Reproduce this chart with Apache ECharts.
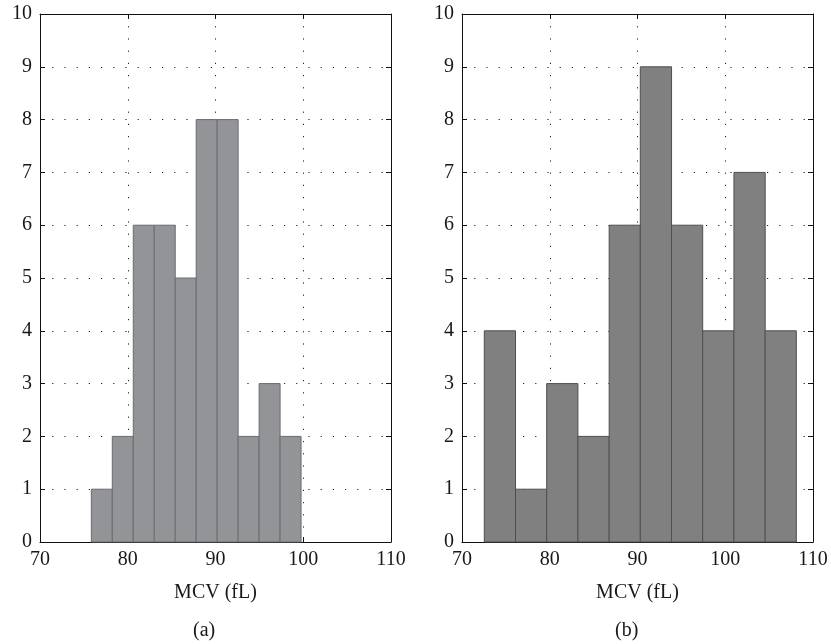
<!DOCTYPE html>
<html>
<head>
<meta charset="utf-8">
<script src="https://cdn.jsdelivr.net/npm/echarts@6/dist/echarts.min.js"></script>
<style>
    html, body { margin: 0; padding: 0; background: #fff; }
    #chart { width: 831px; height: 644px; }
</style>
</head>
<body>
<div id="chart"></div>
<script>
// bin edges (MCV, fL)
const edgesA = [75.85, 78.24, 80.63, 83.02, 85.41, 87.80, 90.19, 92.58, 94.97, 97.36, 99.75];
const countsA = [1, 2, 6, 6, 5, 8, 8, 2, 3, 2];
const edgesB = [72.54, 76.10, 79.65, 83.21, 86.77, 90.32, 93.88, 97.43, 100.99, 104.55, 108.10];
const countsB = [4, 1, 3, 2, 6, 9, 6, 4, 7, 4];
const xTicks = [70, 80, 90, 100, 110];
const yTicks = [0, 1, 2, 3, 4, 5, 6, 7, 8, 9, 10];
const xName = 'MCV (fL)';
const panelLabels = ['(a)', '(b)'];

const chart = echarts.init(document.getElementById('chart'));
const font = 'Liberation Serif';
const txt = '#1a1718';
const fs = 20;

function bins(edges, counts) {
    return counts.map((c, i) => [edges[i], edges[i + 1], c]);
}

function histSeries(idx, data, fill, stroke) {
    return {
        type: 'custom',
        xAxisIndex: idx * 2,
        yAxisIndex: idx * 2,
        data: data,
        renderItem(params, api) {
            const p0 = api.coord([api.value(0), api.value(2)]);
            const p1 = api.coord([api.value(1), 0]);
            return {
                type: 'rect',
                shape: { x: p0[0], y: p0[1], width: p1[0] - p0[0], height: p1[1] - p0[1] },
                style: { fill: fill, stroke: stroke, lineWidth: 1 }
            };
        }
    };
}

function xAxes(grid) {
    const base = {
        type: 'value', gridIndex: grid,
        min: xTicks[0], max: xTicks[xTicks.length - 1], interval: 10,
        axisLine: { show: true, onZero: false, lineStyle: { color: '#111', width: 1 } },
        axisTick: { show: true, inside: true, length: 5, lineStyle: { color: '#111' } }
    };
    return [
        Object.assign({}, base, {
            position: 'bottom',
            axisLabel: { color: txt, fontFamily: font, fontSize: fs, margin: 8 },
            splitLine: { show: true, lineStyle: { color: '#222', type: [1.2, 11], width: 1 } },
            name: xName, nameLocation: 'middle', nameGap: 41,
            nameTextStyle: { color: txt, fontFamily: font, fontSize: fs }
        }),
        Object.assign({}, base, {
            position: 'top',
            axisLabel: { show: false },
            splitLine: { show: false }
        })
    ];
}

function yAxes(grid) {
    const base = {
        type: 'value', gridIndex: grid,
        min: yTicks[0], max: yTicks[yTicks.length - 1], interval: 1,
        axisLine: { show: true, onZero: false, lineStyle: { color: '#111', width: 1 } },
        axisTick: { show: true, inside: true, length: 5, lineStyle: { color: '#111' } }
    };
    return [
        Object.assign({}, base, {
            position: 'left',
            axisLabel: { color: txt, fontFamily: font, fontSize: fs, margin: 8 },
            splitLine: { show: true, lineStyle: { color: '#222', type: [1.2, 11], width: 1 } }
        }),
        Object.assign({}, base, {
            position: 'right',
            axisLabel: { show: false },
            splitLine: { show: false }
        })
    ];
}

const option = {
    animation: false,
    backgroundColor: '#fff',
    grid: [
        { left: 40, right: 440, top: 14, bottom: 102 },
        { left: 462, right: 18, top: 14, bottom: 102 }
    ],
    xAxis: xAxes(0).concat(xAxes(1)),
    yAxis: yAxes(0).concat(yAxes(1)),
    graphic: [
        { type: 'text', left: 193, top: 621, style: { text: panelLabels[0], font: fs + 'px ' + font, fill: txt } },
        { type: 'text', left: 615, top: 621, style: { text: panelLabels[1], font: fs + 'px ' + font, fill: txt } }
    ],
    series: [
        histSeries(0, bins(edgesA, countsA), '#939498', '#6b6c70'),
        histSeries(1, bins(edgesB, countsB), '#808080', '#4f4f4f')
    ]
};
chart.setOption(option);
</script>
</body>
</html>
